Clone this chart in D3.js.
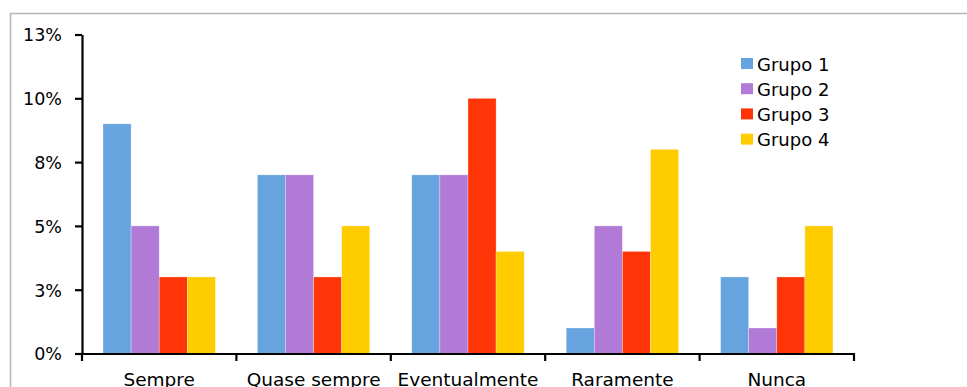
<!DOCTYPE html>
<html>
<head>
<meta charset="utf-8">
<script src="https://cdn.jsdelivr.net/npm/d3@7"></script>
<style>
  html, body { margin: 0; padding: 0; background: #fff; overflow: hidden; }
  svg { display: block; font-family: "DejaVu Sans", sans-serif; }
</style>
</head>
<body>
<svg id="chart" width="967" height="387"></svg>
<script>
// Frequency categories and the share of each group (percent)
const categories = ["Sempre", "Quase sempre", "Eventualmente", "Raramente", "Nunca"];
const groups = ["Grupo 1", "Grupo 2", "Grupo 3", "Grupo 4"];
const grupo1 = [9, 7, 7, 1, 3];
const grupo2 = [5, 7, 7, 5, 1];
const grupo3 = [3, 3, 10, 4, 3];
const grupo4 = [3, 5, 4, 8, 5];
const yTickValues = [0, 2.5, 5, 7.5, 10, 12.5];
const yTickLabels = ["0%", "3%", "5%", "8%", "10%", "13%"];
const colors = ["#67a3de", "#b07ad6", "#ff3508", "#ffcc00"];

const series = [grupo1, grupo2, grupo3, grupo4];
const rows = categories.map((c, i) => ({ cat: c, vals: series.map(s => s[i]) }));

const svg = d3.select("#chart");

// outer frame
svg.append("rect")
  .attr("x", 10.5).attr("y", 13.5)
  .attr("width", 1000).attr("height", 400)
  .attr("fill", "none")
  .attr("stroke", "#b4b4b4")
  .attr("stroke-width", 1.5);

const x0 = d3.scaleBand().domain(categories).range([82, 854]).paddingInner(0).paddingOuter(0);
const x1 = d3.scaleBand().domain(groups).range([21, x0.bandwidth() - 21]).padding(0);
const y = d3.scaleLinear().domain([0, 12.5]).range([353.5, 34.5]);

// bars
const g = svg.append("g");
g.selectAll("g.cat").data(rows).join("g")
  .attr("class", "cat")
  .attr("transform", d => `translate(${x0(d.cat)},0)`)
  .selectAll("rect").data(d => d.vals.map((v, k) => ({ v, k })))
  .join("rect")
  .attr("x", d => x1(groups[d.k]))
  .attr("y", d => y(d.v))
  .attr("width", x1.bandwidth())
  .attr("height", d => y(0) - y(d.v))
  .attr("fill", d => colors[d.k])
  .attr("stroke", "rgba(255,255,255,0.5)")
  .attr("stroke-width", 0.6);

// y axis
const yAxis = d3.axisLeft(y)
  .tickValues(yTickValues)
  .tickFormat((d, i) => yTickLabels[i])
  .tickSizeInner(7).tickSizeOuter(0).tickPadding(13);
const ya = svg.append("g").attr("transform", "translate(82,0)").call(yAxis);
ya.select(".domain").attr("stroke", "#000").attr("stroke-width", 2.2);
ya.selectAll(".tick line").attr("stroke", "#000").attr("stroke-width", 2.2);
ya.selectAll(".tick text").attr("font-size", 17.5).attr("fill", "#000")
  .attr("font-family", "DejaVu Sans, sans-serif").attr("dy", "0.36em");

// x axis with boundary ticks
const xa = svg.append("g").attr("transform", "translate(0,354)");
xa.append("line").attr("x1", 81).attr("x2", 855).attr("y1", 0).attr("y2", 0)
  .attr("stroke", "#000").attr("stroke-width", 2.2);
const bounds = categories.map(c => x0(c)).concat([x0.range()[1]]);
xa.selectAll("line.tk").data(bounds).join("line")
  .attr("class", "tk")
  .attr("x1", d => d).attr("x2", d => d)
  .attr("y1", 0).attr("y2", 7)
  .attr("stroke", "#000").attr("stroke-width", 2.2);
xa.selectAll("text").data(categories).join("text")
  .attr("x", d => x0(d) + x0.bandwidth() / 2)
  .attr("y", 32)
  .attr("text-anchor", "middle")
  .attr("font-size", 18.5)
  .attr("fill", "#000")
  .text(d => d);

// legend
const lg = svg.append("g").attr("transform", "translate(741,58)");
const li = lg.selectAll("g").data(groups).join("g")
  .attr("transform", (d, i) => `translate(0,${i * 25.2})`);
li.append("rect").attr("width", 12).attr("height", 11).attr("fill", (d, i) => colors[i]);
li.append("text").attr("x", 16).attr("y", 12.5)
  .attr("font-size", 18).attr("fill", "#000").text(d => d);
</script>
</body>
</html>
